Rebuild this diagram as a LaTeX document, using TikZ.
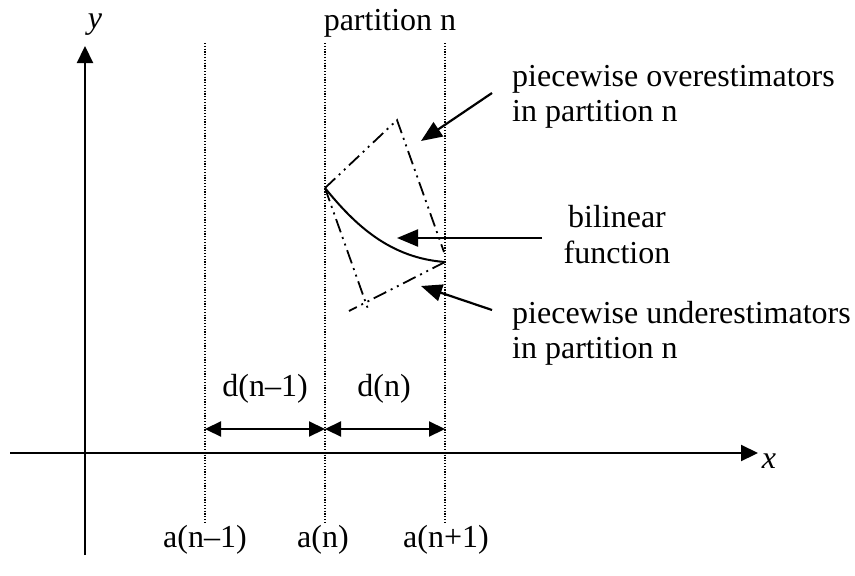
\documentclass[tikz,border=0pt]{standalone}
\usepackage{fontspec}
\setmainfont{Liberation Serif}
\usetikzlibrary{arrows.meta}
\begin{document}
\begin{tikzpicture}[x=1pt,y=-1pt,
  lbl/.style={inner sep=0pt, font=\fontsize{32}{35}\selectfont},
  axisline/.style={line width=2.2pt, -{Triangle[length=17pt,width=16pt]}},
  gridline/.style={line width=1.4pt, dash pattern=on 1.2pt off 1.6pt},
  estline/.style={line width=1.8pt, dash pattern=on 14pt off 5pt on 2pt off 5pt on 2pt off 5pt},
  dimline/.style={line width=2.2pt, {Triangle[length=16pt,width=15pt]}-{Triangle[length=16pt,width=15pt]}},
  callout/.style={line width=2.2pt, -{Triangle[length=21pt,width=17pt]}}]
\useasboundingbox (0,0) rectangle (855,576);
% axes
\coordinate (yb) at (85,555);
\coordinate (yt) at (85,46);
\coordinate (xl) at (10,453);
\coordinate (xr) at (758,453);
\draw[axisline] (yb) -- (yt);
\draw[axisline] (xl) -- (xr);
\node[lbl, anchor=base] (ylab) at (95,28) {\itshape y};
\node[lbl, anchor=base] (xlab) at (769,468) {\itshape x};
% grid lines
\coordinate (g1t) at (205,43); \coordinate (g1b) at (205,523);
\coordinate (g2t) at (325,43); \coordinate (g2b) at (325,523);
\coordinate (g3t) at (445,43); \coordinate (g3b) at (445,523);
\draw[gridline] (g1t) -- (g1b);
\draw[gridline] (g2t) -- (g2b);
\draw[gridline] (g3t) -- (g3b);
% labels at top and bottom
\node[lbl, anchor=base] (pn) at (390,30) {partition n};
\node[lbl, anchor=base] (a1) at (205,547) {a(n--1)};
\node[lbl, anchor=base] (a2) at (323,547) {a(n)};
\node[lbl, anchor=base] (a3) at (446,547) {a(n+1)};
% dimension arrows
\coordinate (d1) at (205,429); \coordinate (d2) at (325,429); \coordinate (d3) at (445,429);
\draw[dimline] (d1) -- (d2);
\draw[dimline] (d2) -- (d3);
\node[lbl, anchor=base] (dl1) at (265,396) {d(n--1)};
\node[lbl, anchor=base] (dl2) at (384,396) {d(n)};
% estimators and function
\coordinate (L) at (325,188);
\coordinate (T) at (397,120);
\coordinate (OE) at (444,252);
\coordinate (R) at (445,262);
\coordinate (B1) at (368,309);
\coordinate (B2) at (349,311);
\draw[estline] (L) -- (T) -- (OE);
\draw[estline] (L) -- (B1);
\draw[estline] (R) -- (B2);
\draw[line width=2pt] (L) .. controls (355,225) and (390,258) .. (R);
% callouts
\node[lbl, anchor=base west] (ov1) at (512,86) {piecewise overestimators};
\node[lbl, anchor=base west] (ov2) at (512,121) {in partition n};
\node[lbl, anchor=base] (bl1) at (617,227) {bilinear};
\node[lbl, anchor=base] (bl2) at (617,263) {function};
\node[lbl, anchor=base west] (un1) at (512,323) {piecewise underestimators};
\node[lbl, anchor=base west] (un2) at (512,358) {in partition n};
\coordinate (c1s) at (492,93);  \coordinate (c1e) at (421,141);
\coordinate (c2s) at (542,238); \coordinate (c2e) at (397,238);
\coordinate (c3s) at (492,310); \coordinate (c3e) at (421,286);
\draw[callout] (c1s) -- (c1e);
\draw[callout] (c2s) -- (c2e);
\draw[callout] (c3s) -- (c3e);
\end{tikzpicture}
\end{document}
